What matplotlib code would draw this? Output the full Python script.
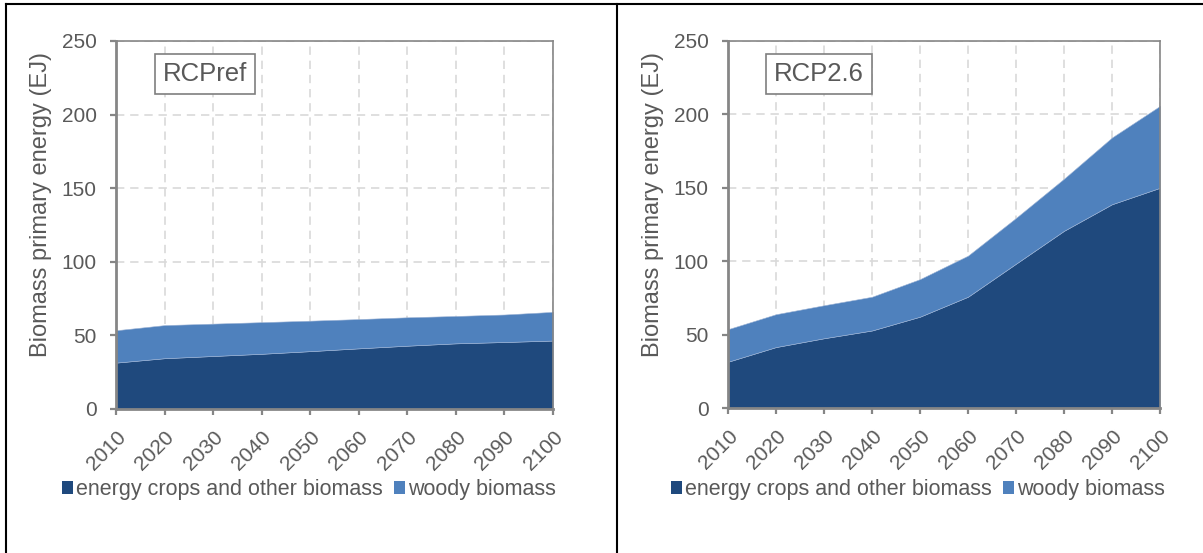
import matplotlib
matplotlib.use("Agg")
import matplotlib.pyplot as plt
from matplotlib.patches import Patch
from matplotlib.lines import Line2D

plt.rcParams['font.family'] = ['Liberation Sans', 'DejaVu Sans']

years = [2010, 2020, 2030, 2040, 2050, 2060, 2070, 2080, 2090, 2100]

# RCPref
ref_crops = [31.5, 34.5, 36.0, 37.5, 39.3, 41.2, 43.0, 44.6, 45.5, 46.5]
ref_woody = [22.0, 22.5, 22.0, 21.5, 20.7, 19.9, 19.3, 18.6, 18.7, 19.5]

# RCP2.6
rcp_crops = [31.5, 41.5, 47.5, 52.8, 62.2, 75.8, 98.3, 120.7, 138.8, 150.0]
rcp_woody = [22.2, 22.4, 22.5, 23.0, 25.6, 28.0, 31.2, 35.5, 45.5, 55.8]

series_labels = ['energy crops and other biomass', 'woody biomass']
panel_labels = ['RCPref', 'RCP2.6']
ylabel = 'Biomass primary energy (EJ)'
yticks = [0, 50, 100, 150, 200, 250]

c_dark = '#1F497D'
c_light = '#4F81BD'
txt = '#595959'
axc = '#868686'

W, H = 1203, 553
fig = plt.figure(figsize=(W / 100, H / 100), dpi=100)

rects = [
    [116 / W, 1 - 409 / H, (553 - 116) / W, (409 - 41) / H],
    [728 / W, 1 - 408 / H, (1160 - 728) / W, (408 - 41) / H],
]
datasets = [(ref_crops, ref_woody), (rcp_crops, rcp_woody)]
label_pos = [(163, 74), (774, 74)]
legend_pos = [(309, 490), (918, 490)]

for i, (rect, (crops, woody)) in enumerate(zip(rects, datasets)):
    ax = fig.add_axes(rect)
    ax.stackplot(years, crops, woody, colors=[c_dark, c_light],
                 edgecolor='#9db4d6', linewidth=0.4, zorder=2)
    ax.set_xlim(2010, 2100)
    ax.set_ylim(0, 250)
    ax.set_xticks(years)
    ax.set_yticks(yticks)
    ax.set_xticklabels([str(y) for y in years], rotation=45, ha='right',
                       rotation_mode='anchor', fontsize=15, color=txt)
    ax.set_yticklabels([str(v) for v in yticks], fontsize=15, color=txt)
    ax.grid(True, color='#d9d9d9', linestyle=(0, (5, 3.5)), linewidth=1.2, zorder=0)
    ax.set_axisbelow(True)
    for s in ['left', 'bottom']:
        ax.spines[s].set_color(axc)
        ax.spines[s].set_linewidth(2)
    for s in ['top', 'right']:
        ax.spines[s].set_color(axc)
        ax.spines[s].set_linewidth(1.2)
    ax.tick_params(axis='both', direction='out', color=axc, width=1.6, length=4)
    ax.tick_params(axis='y', pad=10)
    ax.tick_params(axis='x', pad=9)
    ax.set_ylabel(ylabel, fontsize=17, color=txt, labelpad=7, y=0.555)

    lx, ly = label_pos[i]
    fig.text(lx / W, 1 - ly / H, panel_labels[i], fontsize=18.5, color=txt,
             ha='left', va='center',
             bbox=dict(boxstyle='square,pad=0.3', fc='white', ec='#7f7f7f', lw=1.2))

    handles = [Patch(facecolor=c_dark, edgecolor='none'),
               Patch(facecolor=c_light, edgecolor='none')]
    gx, gy = legend_pos[i]
    leg = fig.legend(handles, series_labels, loc='center',
                     bbox_to_anchor=(gx / W, 1 - gy / H), ncol=2, frameon=False,
                     fontsize=15.5, handlelength=0.5, handleheight=0.55,
                     handletextpad=0.15, columnspacing=0.5, borderaxespad=0,
                     borderpad=0)
    for t in leg.get_texts():
        t.set_color(txt)

# table borders
fig.add_artist(Line2D([6 / W, 1], [1 - 4 / H, 1 - 4 / H], color='black', lw=1.5))
fig.add_artist(Line2D([6 / W, 6 / W], [0, 1 - 4 / H], color='black', lw=1.5))
fig.add_artist(Line2D([617 / W, 617 / W], [0, 1 - 4 / H], color='black', lw=1.5))

fig.savefig('out.png', dpi=100)
